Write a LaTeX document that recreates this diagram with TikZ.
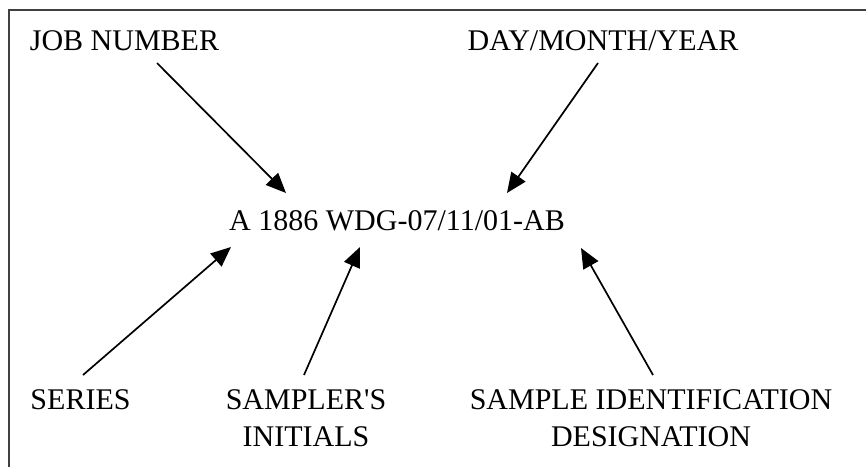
\documentclass[tikz,border=0pt]{standalone}
\usepackage{fontspec}
\setmainfont{Liberation Serif}[Ligatures=TeXOff]
\usetikzlibrary{arrows.meta}
\begin{document}
\begin{tikzpicture}[x=1pt,y=-1pt,
  lbl/.style={inner sep=0pt,anchor=base,align=center,font=\fontsize{30}{37}\selectfont},
  pointer/.style={line width=1.7pt,-{Triangle[length=20pt,width=17pt]}}]
\useasboundingbox (0,0) rectangle (866,466);
\begin{scope}
\clip (0,0) rectangle (866,466);
\draw[line width=2pt,black!75] (9,10) rectangle (880,480);
\end{scope}
\node[lbl] (job) at (124.5,50) {JOB NUMBER};
\node[lbl] (date) at (603,50) {DAY/MONTH/YEAR};
\node[lbl] (code) at (397,230) {A 1886 WDG-07/11/01-AB};
\node[lbl] (series) at (80.5,409) {SERIES};
\node[lbl] (sampler) at (306,446) {SAMPLER'S\\INITIALS};
\node[lbl] (sid) at (651,446) {SAMPLE IDENTIFICATION\\DESIGNATION};
\coordinate (jobs) at (157,63);
\coordinate (jobt) at (286,193);
\coordinate (dates) at (598,63);
\coordinate (datet) at (507,193);
\coordinate (sers) at (83,375);
\coordinate (sert) at (231,247);
\coordinate (sams) at (304,375);
\coordinate (samt) at (360,247);
\coordinate (sids) at (653,375);
\coordinate (sidt) at (581,248);
\draw[pointer] (jobs) -- (jobt);
\draw[pointer] (dates) -- (datet);
\draw[pointer] (sers) -- (sert);
\draw[pointer] (sams) -- (samt);
\draw[pointer] (sids) -- (sidt);
\end{tikzpicture}
\end{document}
